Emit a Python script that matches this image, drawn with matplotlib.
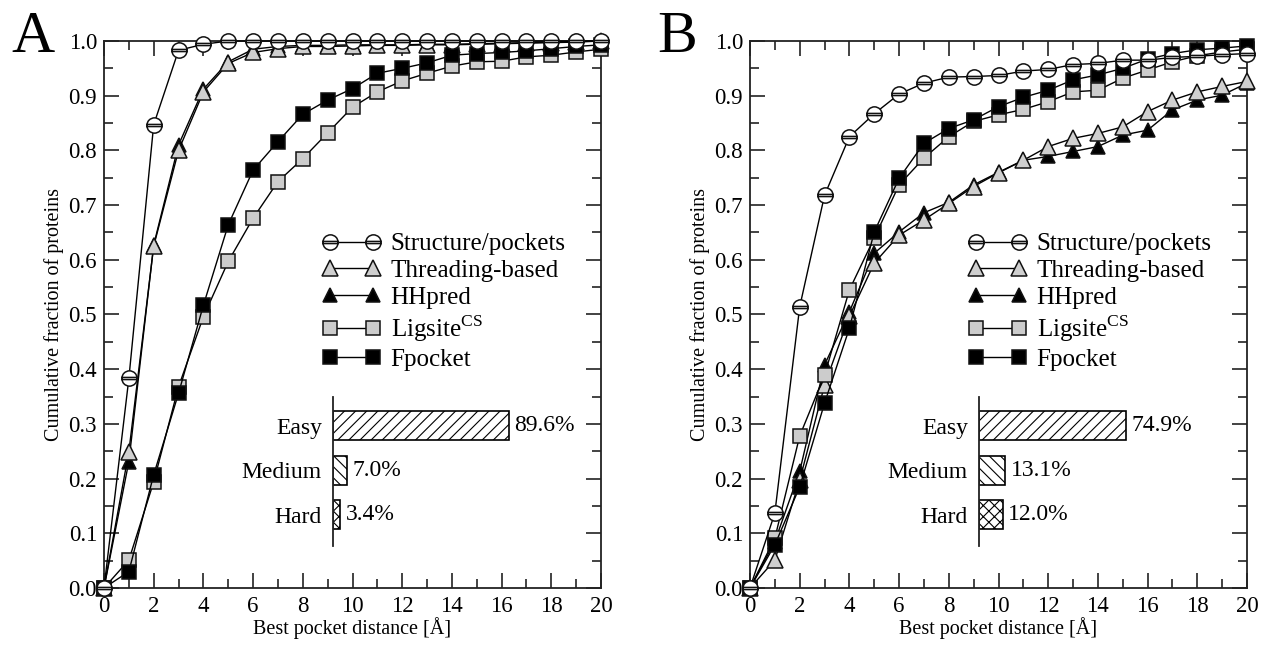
import numpy as np
import matplotlib.pyplot as plt
from matplotlib.path import Path
from matplotlib.ticker import MultipleLocator, FormatStrFormatter

plt.rcParams['font.family'] = ['Liberation Serif', 'DejaVu Serif']
plt.rcParams['mathtext.fontset'] = 'custom'
plt.rcParams['mathtext.rm'] = 'Liberation Serif'
plt.rcParams['hatch.linewidth'] = 0.8

dist = np.arange(21)

# panel A
a_struct = [0, 0.383, 0.847, 0.983, 0.994, 1.0, 1.0, 1.0, 1.0, 1.0, 1.0, 1.0, 1.0, 1.0, 1.0, 1.0, 1.0, 1.0, 1.0, 1.0, 1.0]
a_thread = [0, 0.249, 0.625, 0.800, 0.907, 0.959, 0.979, 0.986, 0.990, 0.990, 0.991, 0.992, 0.992, 0.993, 0.993, 0.994, 0.995, 0.996, 0.997, 0.998, 1.0]
a_hhpred = [0, 0.231, 0.627, 0.810, 0.912, 0.962, 0.985, 0.990, 0.992, 0.992, 0.993, 0.993, 0.993, 0.994, 0.994, 0.995, 0.996, 0.997, 0.998, 0.999, 1.0]
a_lig = [0, 0.051, 0.194, 0.368, 0.496, 0.597, 0.676, 0.743, 0.785, 0.832, 0.879, 0.907, 0.927, 0.941, 0.954, 0.962, 0.963, 0.971, 0.974, 0.980, 0.985]
a_fpk = [0, 0.030, 0.207, 0.356, 0.517, 0.664, 0.764, 0.816, 0.866, 0.892, 0.913, 0.941, 0.950, 0.960, 0.974, 0.977, 0.979, 0.982, 0.986, 0.990, 0.993]

# panel B
b_struct = [0, 0.137, 0.514, 0.718, 0.825, 0.867, 0.903, 0.923, 0.934, 0.935, 0.937, 0.945, 0.948, 0.957, 0.959, 0.965, 0.965, 0.970, 0.972, 0.975, 0.977]
b_thread = [0, 0.051, 0.197, 0.371, 0.497, 0.594, 0.645, 0.673, 0.703, 0.734, 0.759, 0.782, 0.807, 0.822, 0.831, 0.843, 0.871, 0.892, 0.907, 0.917, 0.926]
b_hhpred = [0, 0.085, 0.213, 0.408, 0.505, 0.612, 0.651, 0.686, 0.705, 0.737, 0.760, 0.782, 0.789, 0.798, 0.807, 0.828, 0.837, 0.874, 0.892, 0.901, 0.923]
b_lig = [0, 0.091, 0.278, 0.389, 0.545, 0.640, 0.737, 0.786, 0.825, 0.853, 0.865, 0.875, 0.889, 0.907, 0.910, 0.932, 0.947, 0.962, 0.973, 0.980, 0.985]
b_fpk = [0, 0.079, 0.185, 0.338, 0.475, 0.651, 0.749, 0.813, 0.840, 0.856, 0.880, 0.897, 0.910, 0.929, 0.938, 0.950, 0.967, 0.977, 0.984, 0.987, 0.991]

levels = ['Easy', 'Medium', 'Hard']
a_share = [89.6, 7.0, 3.4]
b_share = [74.9, 13.1, 12.0]
hatches = ['///', '\\\\\\', 'xxx']

names = ['Structure/pockets', 'Threading-based', 'HHpred', 'Ligsite$^{\\rm CS}$', 'Fpocket']

# circle with a band through it
circ = Path.unit_circle()
band = [[-1, 0.14], [1, 0.14], [-1, -0.14], [1, -0.14]]
theta = Path(np.concatenate([circ.vertices, band]),
             np.concatenate([circ.codes, [Path.MOVETO, Path.LINETO, Path.MOVETO, Path.LINETO]]))

styles = [
    dict(marker=theta, mfc='white', ms=11, z=6),
    dict(marker='^', mfc='#cfcfcf', ms=11, z=4),
    dict(marker='^', mfc='black', ms=10, z=3),
    dict(marker='s', mfc='#cccccc', ms=10, z=4.5),
    dict(marker='s', mfc='black', ms=10, z=5),
]

W, H = 1262, 648
fig = plt.figure(figsize=(W / 100, H / 100), dpi=100)

spine_c = '#222222'


def panel(left_px, series, share, letter):
    ax = fig.add_axes([left_px / W, (H - 588) / H, 497 / W, 547 / H])
    for vals, name, st in zip(series, names, styles):
        ax.plot(dist, vals, color='black', lw=1.0, marker=st['marker'], mfc=st['mfc'],
                mec='#111111', mew=1.1, ms=st['ms'], label=name, zorder=st['z'], clip_on=False)
    ax.set_xlim(0, 20)
    ax.set_ylim(0, 1.0)
    ax.xaxis.set_major_locator(MultipleLocator(2))
    ax.xaxis.set_minor_locator(MultipleLocator(1))
    ax.yaxis.set_major_locator(MultipleLocator(0.1))
    ax.yaxis.set_minor_locator(MultipleLocator(0.05))
    ax.yaxis.set_major_formatter(FormatStrFormatter('%.1f'))
    ax.tick_params(which='both', direction='in', top=True, right=True, color=spine_c, width=1.2,
                   labelsize=16.5)
    ax.tick_params(which='major', length=10.5)
    ax.tick_params(which='minor', length=6.5)
    ax.tick_params(axis='x', which='major', pad=6)
    ax.tick_params(axis='y', which='major', pad=5)
    for s in ax.spines.values():
        s.set_color(spine_c)
        s.set_linewidth(1.3)
    ax.set_xlabel('Best pocket distance [Å]', fontsize=14.5, labelpad=0)
    ax.set_ylabel('Cumulative fraction of proteins', fontsize=14.5, labelpad=3)
    ax.legend(loc='upper left', bbox_to_anchor=(0.44, 0.649),
              frameon=False, numpoints=2, fontsize=18, handlelength=2.3, handletextpad=0.42,
              labelspacing=0.17, borderpad=0, borderaxespad=0)

    # inset bar chart
    ins_left = left_px + 229
    ia = fig.add_axes([ins_left / W, (H - 546) / H, 267 / W, 149 / H])
    ia.patch.set_alpha(0)
    ia.barh(range(3), share, height=0.65, color='white', edgecolor='black', lw=1.2)
    for i, (v, h) in enumerate(zip(share, hatches)):
        ia.patches[i].set_hatch(h)
        ia.text(v + 3.0, i, f'{v:.1f}%', va='center', ha='left', fontsize=17)
    ia.set_xlim(0, 267 / 1.96)
    ia.set_ylim(2.7, -0.65)
    ia.set_yticks(range(3))
    ia.set_yticklabels(levels, fontsize=17)
    ia.set_xticks([])
    ia.tick_params(axis='y', length=0, pad=8)
    for k in ['top', 'right', 'bottom']:
        ia.spines[k].set_visible(False)
    ia.spines['left'].set_linewidth(1.3)
    ia.spines['left'].set_color(spine_c)

    fig.text((left_px - 93) / W, (H - 52) / H, letter, fontsize=43, va='baseline', ha='left')
    return ax


panel(104, [a_struct, a_thread, a_hhpred, a_lig, a_fpk], a_share, 'A')
panel(750, [b_struct, b_thread, b_hhpred, b_lig, b_fpk], b_share, 'B')

fig.savefig('out.png', dpi=100)
